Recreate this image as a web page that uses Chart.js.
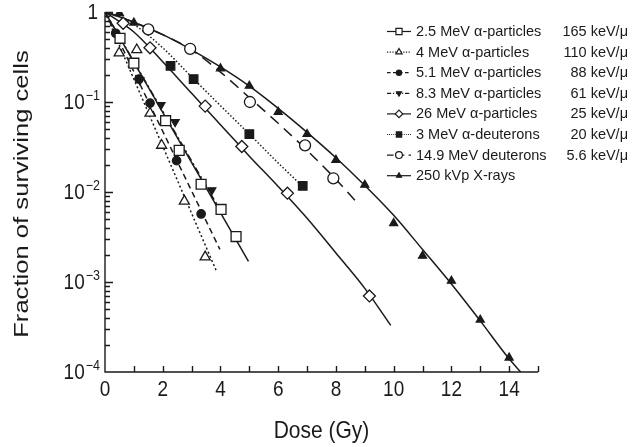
<!DOCTYPE html>
<html><head><meta charset="utf-8">
<script src="https://cdn.jsdelivr.net/npm/chart.js@4/dist/chart.umd.min.js"></script>
<style>html,body{margin:0;padding:0;background:#fff;}canvas{display:block;}</style>
</head><body>
<canvas id="c" width="637" height="447"></canvas>
<script>
// ---- labels ----
const seriesNames = ['2.5 MeV α-particles','4 MeV α-particles','5.1 MeV α-particles','8.3 MeV α-particles','26 MeV α-particles','3 MeV α-deuterons','14.9 MeV deuterons','250 kVp X-rays'];
const seriesLET = ['165 keV/μ','110 keV/μ','88 keV/μ','61 keV/μ','25 keV/μ','20 keV/μ','5.6 keV/μ',''];
const xTicks = [0,2,4,6,8,10,12,14];
const yExponents = [0,-1,-2,-3,-4];
const xTitle = 'Dose (Gy)';
const yTitle = 'Fraction of surviving cells';

// ---- measured points ----
const a25Dose = [0.52,1.0,2.1,2.57,3.33,4.02,4.54];
const a25Surv = [0.51,0.27,0.062,0.029,0.0122,0.0064,0.0032];
const a4Dose = [0.49,1.1,1.56,1.96,2.75,3.47];
const a4Surv = [0.35,0.38,0.075,0.033,0.0079,0.0019];
const a51Dose = [0.37,1.18,1.56,2.48,3.33];
const a51Surv = [0.58,0.18,0.097,0.0223,0.0057];
const a83Dose = [1.21,1.94,2.43,3.7];
const a83Surv = [0.175,0.093,0.06,0.0105];
const a26Dose = [0.63,1.56,3.47,4.74,6.32,9.16];
const a26Surv = [0.75,0.40,0.09,0.032,0.0097,0.0007];
const d3Dose = [2.27,3.07,5.0,6.85];
const d3Surv = [0.252,0.18,0.044,0.0117];
const d149Dose = [1.5,2.95,5.02,6.93,7.91];
const d149Surv = [0.64,0.39,0.10,0.033,0.0142];
const xrDose = [0.5,1,4,5,6,7,8,9,10,11,12,13,14];
const xrSurv = [0.97,0.76,0.236,0.151,0.0774,0.044,0.0227,0.012,0.0045,0.00195,0.00103,0.00038,0.000144];

// ---- fitted curves ----
const a25FitDose = [0,4.97];
const a25FitSurv = [1,0.0017];
const a4FitDose = [0,3.87];
const a4FitSurv = [1,0.0013];
const a51FitDose = [0,3.98];
const a51FitSurv = [1,0.0023];
const a83FitDose = [0,3.93];
const a83FitSurv = [1,0.0068];
const a26FitDose = [0,1,2,3,4,5,6,7,8,9,9.9];
const a26FitSurv = [1,0.6,0.28,0.125,0.056,0.025,0.0115,0.0051,0.0021,0.00085,0.00033];
const d3FitDose = [0,0.5,1,2,3,4,5,6,6.85];
const d3FitSurv = [1,0.9,0.73,0.4,0.19,0.091,0.044,0.021,0.0115];
const d149FitDose = [0,1,2,3,4,5,6,7,8,8.8];
const d149FitSurv = [1,0.77,0.56,0.38,0.215,0.112,0.058,0.029,0.0138,0.0072];
const xrFitDose = [0,1,2,3,4,5,6,7,8,9,10,11,12,13,14,14.4];
const xrFitSurv = [1,0.77,0.56,0.38,0.245,0.15,0.085,0.046,0.024,0.0118,0.0055,0.0023,0.00095,0.00037,0.00014,0.0001];

const pointSets = [[a25Dose,a25Surv],[a4Dose,a4Surv],[a51Dose,a51Surv],[a83Dose,a83Surv],[a26Dose,a26Surv],[d3Dose,d3Surv],[d149Dose,d149Surv],[xrDose,xrSurv]];
const fitSets = [[a25FitDose,a25FitSurv],[a4FitDose,a4FitSurv],[a51FitDose,a51FitSurv],[a83FitDose,a83FitSurv],[a26FitDose,a26FitSurv],[d3FitDose,d3FitSurv],[d149FitDose,d149FitSurv],[xrFitDose,xrFitSurv]];

// ---- styles ----
const INK = '#1a1a1a';
const styles = [
  {dash: [], point: 'rect', r: 7, fill: '#fff', rot: 0},
  {dash: [2,2.5], point: 'triangle', r: 5.8, fill: '#fff', rot: 0},
  {dash: [6,4], point: 'circle', r: 4.2, fill: INK, rot: 0},
  {dash: [7,3,2,3], point: 'triangle', r: 4.6, fill: INK, rot: 180},
  {dash: [], point: 'rectRot', r: 6, fill: '#fff', rot: 0},
  {dash: [1.5,2], point: 'rect', r: 6, fill: INK, rot: 0},
  {dash: [11,7], point: 'circle', r: 5.5, fill: '#fff', rot: 0},
  {dash: [], point: 'triangle', r: 4.6, fill: INK, rot: 0}
];
const FONT = '"Liberation Sans", Arial, Helvetica, sans-serif';

const toXY = (xs, ys) => xs.map((v, i) => ({x: v, y: ys[i]}));
const datasets = [];
fitSets.forEach((s, i) => {
  datasets.push({
    label: seriesNames[i] + ' fit', data: toXY(s[0], s[1]), showLine: true,
    borderColor: INK, borderWidth: 1.5, borderDash: styles[i].dash, pointRadius: 0,
    cubicInterpolationMode: 'monotone', fill: false, order: 2
  });
});
pointSets.forEach((s, i) => {
  datasets.push({
    label: seriesNames[i], data: toXY(s[0], s[1]), showLine: false,
    pointStyle: styles[i].point, pointRadius: styles[i].r, pointRotation: styles[i].rot,
    pointBackgroundColor: styles[i].fill, pointBorderColor: INK, pointBorderWidth: 1.3, order: 1
  });
});

function stretchedText(ctx, txt, x, y, size, align, sx, sy) {
  ctx.save();
  ctx.translate(x, y);
  ctx.scale(sx, sy);
  ctx.font = size + 'px ' + FONT;
  ctx.textAlign = align;
  ctx.textBaseline = 'middle';
  ctx.fillText(txt, 0, 0);
  ctx.restore();
}

const decor = {
  id: 'decor',
  afterDraw(chart) {
    const {ctx, chartArea: a, scales: {x, y}} = chart;
    ctx.save();
    ctx.strokeStyle = INK; ctx.fillStyle = INK; ctx.lineWidth = 1.4; ctx.setLineDash([]);
    // axis lines
    ctx.beginPath();
    ctx.moveTo(a.left, a.top); ctx.lineTo(a.left, a.bottom); ctx.lineTo(a.right, a.bottom);
    ctx.stroke();
    // x ticks (inside)
    ctx.beginPath();
    for (let v = x.min + 1; v <= x.max; v++) {
      const px = Math.round(x.getPixelForValue(v)) + 0.5;
      ctx.moveTo(px, a.bottom); ctx.lineTo(px, a.bottom - 6);
    }
    // y ticks (inside)
    for (let e = -4; e <= 0; e++) {
      const base = Math.pow(10, e);
      const py = Math.round(y.getPixelForValue(base)) + 0.5;
      if (e > -4) { ctx.moveTo(a.left, py); ctx.lineTo(a.left + 8, py); }
      if (e < 0) {
        for (let k = 2; k <= 9; k++) {
          const qy = Math.round(y.getPixelForValue(k * base)) + 0.5;
          ctx.moveTo(a.left, qy); ctx.lineTo(a.left + 5, qy);
        }
      }
    }
    ctx.stroke();
    // x tick labels
    xTicks.forEach(v => stretchedText(ctx, String(v), x.getPixelForValue(v), a.bottom + 18, 19, 'center', 1, 1.15));
    // y tick labels
    yExponents.forEach(e => {
      const py = y.getPixelForValue(Math.pow(10, e));
      const right = a.left - 5;
      if (e === 0) {
        stretchedText(ctx, '1', right - 2, py + 1, 19, 'right', 1, 1.15);
      } else {
        const expTxt = '\u2212' + String(-e);
        ctx.font = '12.5px ' + FONT;
        const ew = ctx.measureText(expTxt).width;
        stretchedText(ctx, expTxt, right, py - 6, 12.5, 'right', 1, 1.15);
        stretchedText(ctx, '10', right - ew - 1, py + 1, 19, 'right', 1, 1.15);
      }
    });
    // titles
    stretchedText(ctx, xTitle, (a.left + a.right) / 2, a.bottom + 60, 21, 'center', 1, 1.12);
    ctx.save();
    ctx.translate(22, (a.top + a.bottom) / 2 + 2);
    ctx.rotate(-Math.PI / 2);
    stretchedText(ctx, yTitle, 0, 0, 21, 'center', 1.22, 1);
    ctx.restore();
    // legend
    const lx0 = 387, lx1 = 411, tx = 416, rx = 628, y0 = 31, dy = 20.6;
    seriesNames.forEach((name, i) => {
      const st = styles[i];
      const ly = y0 + i * dy;
      ctx.lineWidth = 1.2; ctx.strokeStyle = INK;
      ctx.setLineDash(st.dash.length ? st.dash.map(d => d * 0.6) : []);
      ctx.beginPath(); ctx.moveTo(lx0, ly + 0.5); ctx.lineTo(lx1, ly + 0.5); ctx.stroke();
      ctx.setLineDash([]);
      ctx.fillStyle = st.fill;
      Chart.helpers.drawPoint(ctx, {pointStyle: st.point, radius: st.r * 0.62, rotation: st.rot, borderWidth: 1.1}, (lx0 + lx1) / 2, ly + 0.5);
      ctx.fillStyle = INK;
      ctx.font = '14.5px ' + FONT; ctx.textBaseline = 'middle';
      ctx.textAlign = 'left'; ctx.fillText(name, tx, ly + 1);
      if (seriesLET[i]) { ctx.textAlign = 'right'; ctx.fillText(seriesLET[i], rx, ly + 1); }
      ctx.textBaseline = 'alphabetic';
    });
    ctx.restore();
  }
};

new Chart(document.getElementById('c'), {
  type: 'scatter',
  data: {datasets},
  options: {
    responsive: false, animation: false, devicePixelRatio: 1,
    layout: {padding: {left: 105, top: 12, right: 99, bottom: 75}},
    plugins: {legend: {display: false}, tooltip: {enabled: false}},
    scales: {
      x: {type: 'linear', min: 0, max: 15, display: false},
      y: {type: 'logarithmic', min: 1e-4, max: 1, display: false}
    }
  },
  plugins: [decor]
});
</script>
</body></html>
